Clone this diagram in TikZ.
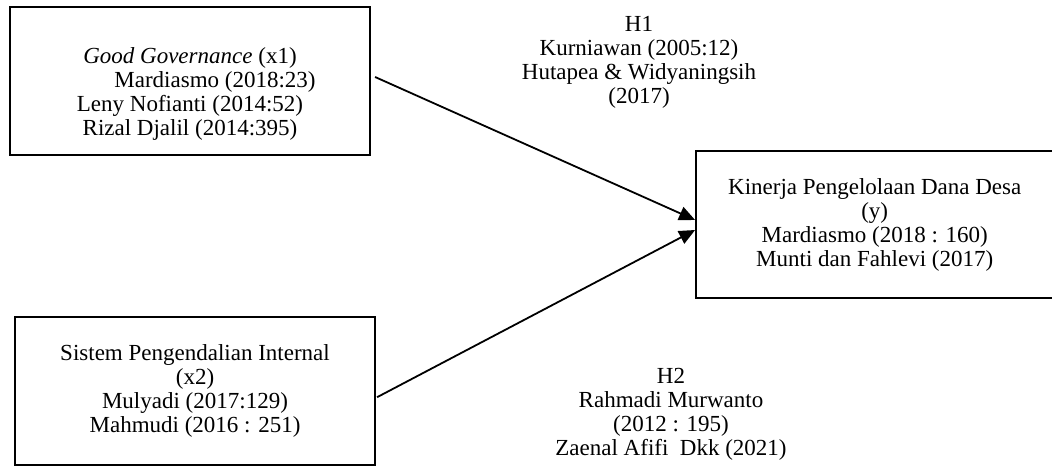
\documentclass[tikz,border=0pt]{standalone}
\usepackage{fontspec}
\setmainfont{Liberation Serif}
\usetikzlibrary{positioning,arrows.meta}

\tikzset{
  varbox/.style={draw, line width=1.1pt, minimum width=180pt, minimum height=74pt,
    align=center, inner sep=0pt, font=\fontsize{11.5}{12}\selectfont},
  reftext/.style={align=center, inner sep=0pt, font=\fontsize{11.5}{12}\selectfont},
  link/.style={line width=0.9pt, -{Triangle[length=8pt,width=7pt]}}
}

\begin{document}
\begin{tikzpicture}[x=0.5pt,y=-0.5pt]
  \useasboundingbox (0,0) rectangle (1052,465);

  \node[varbox] (x1) at (190,81) {};
  \node[reftext] (x1txt) at ([yshift=-6.5pt]x1.center)
    {\textit{Good Governance} (x1)\\
     \hspace*{25pt}Mardiasmo (2018:23)\\
     Leny Nofianti (2014:52)\\
     Rizal Djalil (2014:395)};
  \node[varbox] (x2) [below=80pt of x1, xshift=2.5pt]
    {Sistem Pengendalian Internal\\(x2)\\Mulyadi (2017:129)\\Mahmudi (2016 : 251)};
  \node[varbox, minimum width=178.5pt, minimum height=73.5pt] (y) [right=162pt of x1, yshift=-71.75pt]
    {Kinerja Pengelolaan Dana Desa\\(y)\\Mardiasmo (2018 : 160)\\Munti dan Fahlevi (2017)};

  \node[reftext] (h1) at (639,62)
    {H1\\Kurniawan (2005:12)\\Hutapea \& Widyaningsih\\(2017)};
  \node[reftext] (h2) at (671,414)
    {H2\\Rahmadi Murwanto\\(2012 : 195)\\Zaenal Afifi\ \ Dkk (2021)};

  \draw[link] ([shift={(2pt,2pt)}]x1.east) -- ([yshift=2.25pt]y.west);
  \draw[link] ([shift={(0.5pt,-3pt)}]x2.east) -- ([yshift=-2.75pt]y.west);
\end{tikzpicture}
\end{document}
